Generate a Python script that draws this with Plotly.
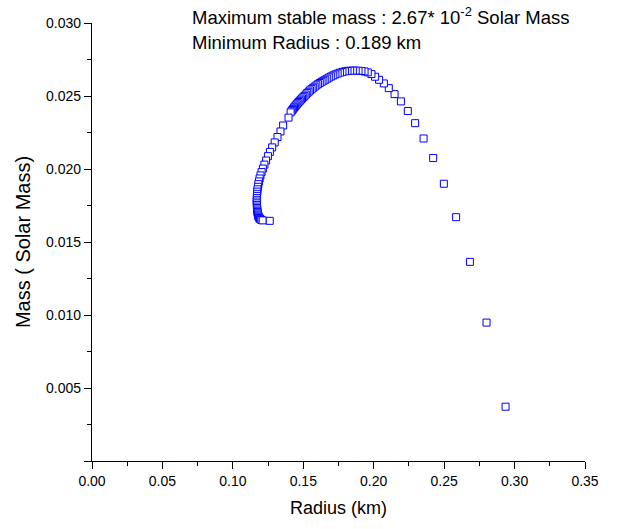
import plotly.graph_objects as go

radius = [
    0.2936, 0.2801, 0.2683, 0.2585, 0.2498, 0.2422, 0.2354, 0.2294, 0.2242, 0.2193,
    0.2148, 0.2107, 0.2072, 0.2038, 0.2010, 0.1984, 0.1958, 0.1935, 0.1913, 0.1892,
    0.1872, 0.1852, 0.1833, 0.1814, 0.1796, 0.1778, 0.1761, 0.1744, 0.1728, 0.1713,
    0.1698, 0.1684, 0.1670, 0.1656, 0.1643, 0.1630, 0.1617, 0.1605, 0.1593, 0.1581,
    0.1570, 0.1559, 0.1548, 0.1538, 0.1528, 0.1518, 0.1509, 0.1500, 0.1491, 0.1483,
    0.1475, 0.1467, 0.1460, 0.1453, 0.1446, 0.1440, 0.1434, 0.1428, 0.1422, 0.1416,
    0.1410, 0.1395, 0.1357, 0.1338, 0.1317, 0.1297, 0.1279, 0.1263, 0.1249, 0.1236,
    0.1224, 0.1213, 0.1204, 0.1196, 0.1190, 0.1185, 0.1181, 0.1178, 0.1175, 0.1173,
    0.1172, 0.1171, 0.1170, 0.1170, 0.1170, 0.1170, 0.1171, 0.1171, 0.1172, 0.1173,
    0.1174, 0.1175, 0.1177, 0.1178, 0.1180, 0.1182, 0.1185, 0.1188, 0.1192, 0.1197,
    0.1203, 0.1212, 0.1262,
]

mass = [
    0.00372, 0.00948, 0.01364, 0.01670, 0.01899, 0.02075, 0.02209, 0.02314, 0.02397, 0.02463,
    0.02513, 0.02554, 0.02586, 0.02611, 0.02632, 0.02650, 0.02662, 0.02668, 0.02671, 0.02673,
    0.02674, 0.02674, 0.02673, 0.02672, 0.02669, 0.02665, 0.02660, 0.02654, 0.02648, 0.02641,
    0.02634, 0.02627, 0.02619, 0.02611, 0.02604, 0.02597, 0.02589, 0.02581, 0.02573, 0.02564,
    0.02556, 0.02547, 0.02538, 0.02529, 0.02520, 0.02510, 0.02501, 0.02492, 0.02483, 0.02475,
    0.02467, 0.02459, 0.02451, 0.02443, 0.02435, 0.02427, 0.02420, 0.02412, 0.02404, 0.02396,
    0.02388, 0.02352, 0.02298, 0.02257, 0.02219, 0.02182, 0.02148, 0.02117, 0.02088, 0.02058,
    0.02030, 0.02003, 0.01979, 0.01956, 0.01935, 0.01915, 0.01896, 0.01878, 0.01861, 0.01845,
    0.01830, 0.01816, 0.01802, 0.01789, 0.01777, 0.01765, 0.01754, 0.01743, 0.01733, 0.01723,
    0.01714, 0.01705, 0.01697, 0.01689, 0.01682, 0.01675, 0.01669, 0.01664, 0.01659, 0.01655,
    0.01651, 0.01648, 0.01645,
]

x_title = "Radius (km)"
y_title = "Mass ( Solar Mass)"
note_line1 = "Maximum stable mass : 2.67* 10<sup>-2</sup> Solar Mass"
note_line2 = "Minimum Radius : 0.189 km"

FONT = "Liberation Sans, Arial, Helvetica, sans-serif"

fig = go.Figure()
fig.add_trace(go.Scatter(
    x=radius, y=mass, mode="markers",
    marker=dict(symbol="square", size=7, color="white",
                line=dict(color="#0000FF", width=1)),
    showlegend=False, hoverinfo="x+y",
))

fig.update_layout(
    width=620, height=529,
    margin=dict(l=92, r=35, t=23, b=68),
    paper_bgcolor="white", plot_bgcolor="white",
    font=dict(family=FONT, color="black", size=14),
    xaxis=dict(
        range=[0, 0.35], tick0=0, dtick=0.05, tickformat=".2f",
        showline=True, linecolor="black", linewidth=1.2, mirror=False,
        ticks="outside", ticklen=7, tickwidth=1.2, tickcolor="black",
        minor=dict(ticks="outside", dtick=0.025, tick0=0, ticklen=4, tickwidth=1.2, tickcolor="black"),
        showgrid=False, zeroline=False,
        tickfont=dict(size=14),
        title=dict(text=x_title, font=dict(size=18), standoff=13),
    ),
    yaxis=dict(
        range=[0, 0.030], tick0=0, dtick=0.005, tickformat=".3f",
        labelalias={"0.000": " "},
        showline=True, linecolor="black", linewidth=1.2, mirror=False,
        ticks="outside", ticklen=7, tickwidth=1.2, tickcolor="black",
        minor=dict(ticks="outside", dtick=0.0025, tick0=0, ticklen=4, tickwidth=1.2, tickcolor="black"),
        showgrid=False, zeroline=False,
        tickfont=dict(size=14),
        title=dict(text=y_title, font=dict(size=20), standoff=10),
    ),
)

fig.add_annotation(text=note_line1, xref="paper", yref="paper",
                   x=(190 - 92) / 493, y=(461 - 16) / 438,
                   xanchor="left", yanchor="middle", showarrow=False,
                   font=dict(size=18.5, family=FONT, color="black"))
fig.add_annotation(text=note_line2, xref="paper", yref="paper",
                   x=(190 - 92) / 493, y=(461 - 42) / 438,
                   xanchor="left", yanchor="middle", showarrow=False,
                   font=dict(size=18.5, family=FONT, color="black"))

fig.write_html("out.html")
